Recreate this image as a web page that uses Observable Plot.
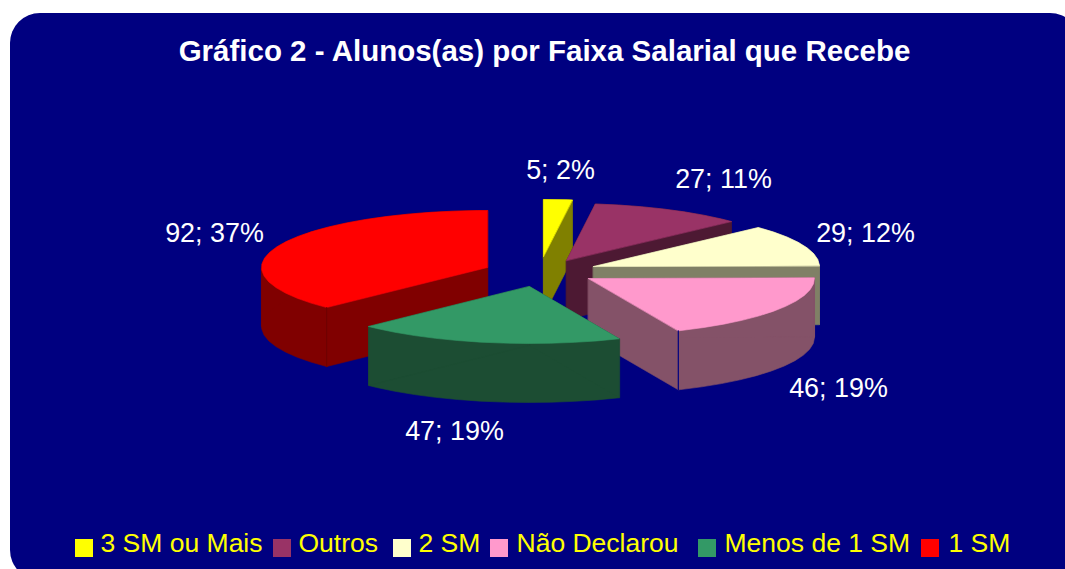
<!DOCTYPE html>
<html>
<head>
<meta charset="utf-8">
<style>html,body{margin:0;padding:0;background:#fff}svg{display:block}</style>
<script src="https://cdn.jsdelivr.net/npm/d3@7"></script>
<script src="https://cdn.jsdelivr.net/npm/@observablehq/plot@0.6"></script>
</head>
<body>
<div id="chart"></div>
<script>
const titleText = "Gráfico 2 - Alunos(as) por Faixa Salarial que Recebe";
const categories = ["3 SM ou Mais", "Outros", "2 SM", "Não Declarou", "Menos de 1 SM", "1 SM"];
const values = [5, 27, 29, 46, 47, 92];
const topColors = ["#ffff00", "#993366", "#ffffcc", "#ff99cc", "#339966", "#ff0000"];
const wallColors = ["#808000", "#4d1933", "#808066", "#845268", "#1c4d33", "#800000"];
const edgeColors = [null, null, null, "#000080", null, "#700000"];

// layout of the exploded 3D pie (pixels)
const apexX = [543, 566, 593, 588, 529, 487];
const apexY = [256, 260, 266, 278, 286, 267];
const radiusX = 226, radiusY = 57, depth = 59, arcStep = 6;
const paintOrder = [0, 1, 2, 5, 3, 4];
const labelX = [560, 723, 865, 838, 454, 214];
const labelY = [170, 179, 233, 388, 431, 233];
const legendSwatchX = [75, 273, 393, 490, 698, 921];
const legendTextX = [100, 298, 418, 516, 724, 948];

const total = d3.sum(values);
const ends = d3.cumsum(values).map(v => v / total * 360);
const rad = d => d * Math.PI / 180;

const faces = [];
const edges = [];
paintOrder.forEach(i => {
  const a0 = i ? ends[i - 1] : 0, a1 = ends[i];
  const ax = apexX[i], ay = apexY[i];
  const at = a => [ax + radiusX * Math.sin(rad(a)), ay - radiusY * Math.cos(rad(a))];
  const sweep = (s, e) => d3.range(s, e, arcStep).concat([e]).map(at);
  const arc = sweep(a0, a1);
  const down = p => [p[0], p[1] + depth];
  const first = arc[0], last = arc[arc.length - 1];
  const add = (id, color, pts) => pts.forEach(p => faces.push({id: `${i}-${id}`, color, x: p[0], y: p[1]}));
  // outer wall, cut where the ellipse turns so that no band folds over itself
  const cuts = [a0, ...[90, 270].filter(c => c > a0 && c < a1), a1];
  d3.pairs(cuts).forEach(([s, e], k) => {
    const band = sweep(s, e);
    add(`outer${k}`, wallColors[i], [...band, ...band.map(down).reverse()]);
  });
  add("start", wallColors[i], [[ax, ay], first, down(first), [ax, ay + depth]]);
  add("end", wallColors[i], [[ax, ay], last, down(last), [ax, ay + depth]]);
  add("top", topColors[i], [[ax, ay], ...arc]);
  if (edgeColors[i]) {
    const e = i === 5 ? first : last;
    edges.push({id: i, color: edgeColors[i], x: e[0], y: e[1]}, {id: i, color: edgeColors[i], x: e[0], y: e[1] + depth});
  }
});

const labels = categories.map((c, i) => ({
  text: `${values[i]}; ${Math.round(values[i] / total * 100)}%`, x: labelX[i], y: labelY[i]
}));
const legend = categories.map((c, i) => ({c, color: topColors[i], sx: legendSwatchX[i], tx: legendTextX[i]}));

const plot = Plot.plot({
  width: 1065, height: 569,
  margin: 0,
  x: {domain: [0, 1065], range: [0, 1065], axis: null},
  y: {domain: [0, 569], range: [0, 569], axis: null},
  style: {background: "#fff", fontFamily: "'Liberation Sans', Arial, sans-serif"},
  marks: [
    Plot.rect([{x1: 10, x2: 1080, y1: 13, y2: 580}], {x1: "x1", x2: "x2", y1: "y1", y2: "y2", fill: "#000080", rx: 30}),
    Plot.line(faces, {x: "x", y: "y", z: "id", fill: "color", stroke: "color", strokeWidth: 0.6, curve: "linear-closed"}),
    Plot.line(edges, {x: "x", y: "y", z: "id", stroke: "color", strokeWidth: 1.2}),
    Plot.text([titleText], {x: () => 544, y: () => 51, text: d => d, fill: "#fff", fontSize: 29.5, fontWeight: "bold"}),
    Plot.text(labels, {x: "x", y: "y", text: "text", fill: "#fff", fontSize: 26.9}),
    Plot.rect(legend, {x1: "sx", x2: d => d.sx + 18, y1: () => 539, y2: () => 557, fill: "color"}),
    Plot.text(legend, {x: "tx", y: () => 543, text: "c", textAnchor: "start", fill: "#ffff00", fontSize: 26.5})
  ]
});
document.getElementById("chart").append(plot);
</script>
</body>
</html>
